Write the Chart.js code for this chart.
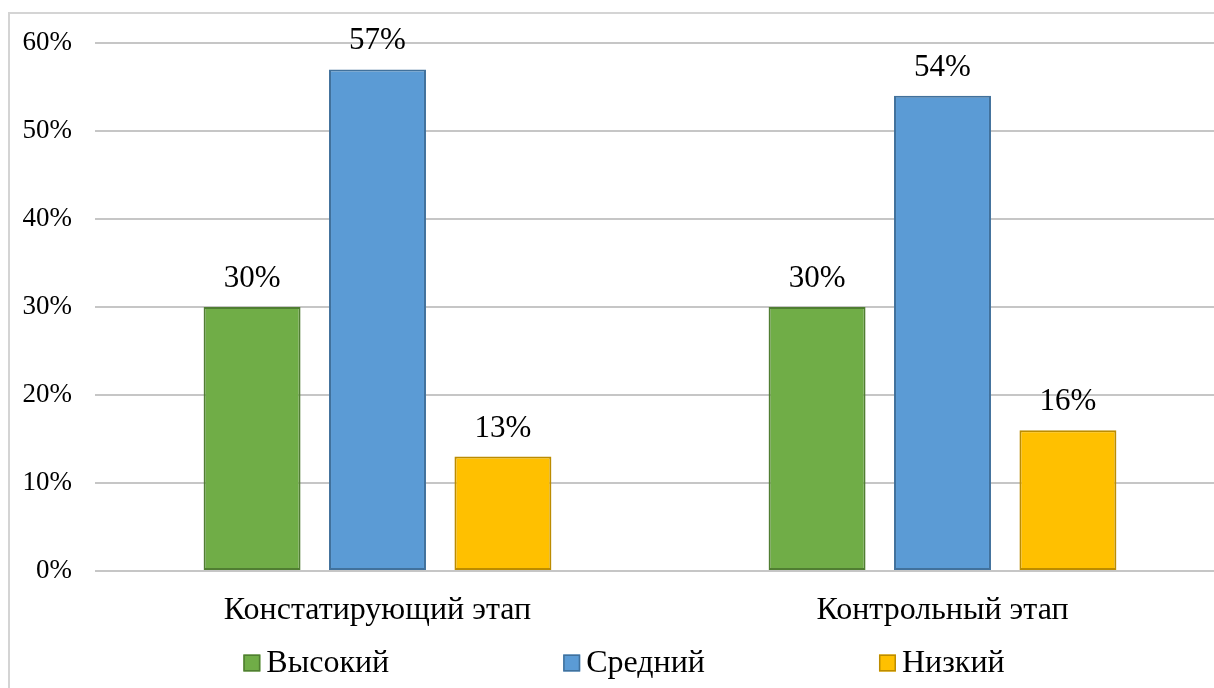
<!DOCTYPE html>
<html lang="ru">
<head>
<meta charset="utf-8">
<title>Уровни по этапам</title>
<script src="https://cdn.jsdelivr.net/npm/chart.js@4.4.1/dist/chart.umd.min.js"></script>
<style>
  html, body { margin: 0; padding: 0; background: #fff; overflow: hidden; }
  #frame {
    position: absolute; left: 8px; top: 12px; width: 1300px; height: 800px;
    border: 2px solid #d4d4d4; box-sizing: border-box;
  }
  #wrap { position: absolute; left: 0; top: 0; width: 1240px; height: 700px; }
</style>
</head>
<body>
<div id="frame"></div>
<div id="wrap"><canvas id="chart" width="1240" height="700"></canvas></div>
<script>
/* global Chart */

const CATEGORIES = ["Констатирующий этап", "Контрольный этап"];
const SERIES_NAMES = ["Высокий", "Средний", "Низкий"];
const HIGH = [30, 30];
const MEDIUM = [57, 54];
const LOW = [13, 16];
const Y_TICKS = [0, 10, 20, 30, 40, 50, 60];

const FILLS = ["#70ad47", "#5b9bd5", "#ffc000"];
const BORDERS = ["#507e32", "#41719c", "#bc8c00"];

const SERIF = "'Liberation Serif', 'Times New Roman', serif";

// value labels above each bar
const valueLabels = {
  id: "valueLabels",
  afterDatasetsDraw(chart) {
    const ctx = chart.ctx;
    ctx.save();
    ctx.font = "31px " + SERIF;
    ctx.fillStyle = "#000";
    ctx.textAlign = "center";
    ctx.textBaseline = "alphabetic";
    chart.data.datasets.forEach((ds, i) => {
      chart.getDatasetMeta(i).data.forEach((bar, j) => {
        ctx.fillText(ds.data[j] + "%", bar.x, bar.y - 20);
      });
    });
    ctx.restore();
  }
};

// legend row at the bottom, spaced like the office chart
const bottomLegend = {
  id: "bottomLegend",
  afterDraw(chart) {
    const ctx = chart.ctx;
    const box = 17, gap = 6, spacing = 174;
    ctx.save();
    ctx.font = "32px " + SERIF;
    const widths = SERIES_NAMES.map((n) => box + gap + ctx.measureText(n).width);
    const total = widths.reduce((a, b) => a + b, 0) + spacing * (widths.length - 1);
    let x = chart.width / 2 + 4 - total / 2;
    const y = 663;
    SERIES_NAMES.forEach((name, i) => {
      ctx.fillStyle = FILLS[i];
      ctx.strokeStyle = BORDERS[i];
      ctx.lineWidth = 1.5;
      ctx.fillRect(x, y - box / 2, box, box);
      ctx.strokeRect(x + 0.75, y - box / 2 + 0.75, box - 1.5, box - 1.5);
      ctx.fillStyle = "#000";
      ctx.textAlign = "left";
      ctx.textBaseline = "middle";
      ctx.fillText(name, x + box + gap, y + 1);
      x += widths[i] + spacing;
    });
    ctx.restore();
  }
};

const seriesData = [HIGH, MEDIUM, LOW];

new Chart(document.getElementById("chart").getContext("2d"), {
  type: "bar",
  data: {
    labels: CATEGORIES,
    datasets: SERIES_NAMES.map((name, i) => ({
      label: name,
      data: seriesData[i],
      backgroundColor: FILLS[i],
      borderColor: BORDERS[i],
      borderWidth: 2,
      borderSkipped: false,
      categoryPercentage: 0.666,
      barPercentage: 0.773
    }))
  },
  options: {
    responsive: false,
    animation: false,
    layout: { padding: { top: 43, right: 15, bottom: 69, left: 0 } },
    plugins: {
      legend: { display: false },
      tooltip: { enabled: false }
    },
    scales: {
      x: {
        grid: { display: false, drawTicks: false },
        border: { display: false },
        ticks: { color: "#000", font: { family: SERIF, size: 32 }, padding: 20, maxRotation: 0 },
        afterFit(scale) { scale.height = 60; }
      },
      y: {
        min: 0,
        max: 60,
        afterBuildTicks(scale) { scale.ticks = Y_TICKS.map((v) => ({ value: v })); },
        grid: { color: "#c6c6c6", lineWidth: 2, drawTicks: false },
        border: { display: false },
        ticks: {
          color: "#000",
          font: { family: SERIF, size: 27 },
          padding: 23,
          callback: (v) => v + "%"
        },
        afterFit(scale) { scale.width = 95; }
      }
    }
  },
  plugins: [valueLabels, bottomLegend]
});
</script>
</body>
</html>
